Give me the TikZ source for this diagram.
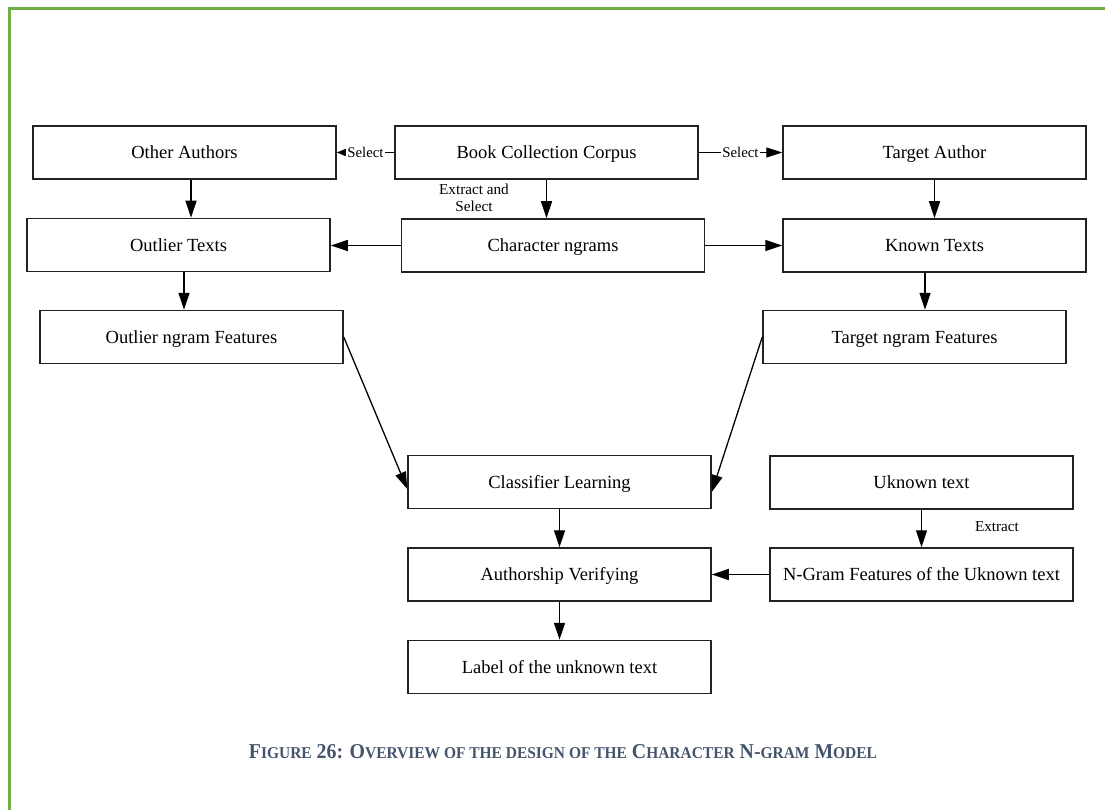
\documentclass[tikz,border=0pt]{standalone}
\usepackage{fontspec}
\usepackage{graphicx}
\setmainfont{Liberation Serif}
\usetikzlibrary{arrows.meta,calc}
\definecolor{framegreen}{HTML}{70AD47}
\definecolor{capblue}{HTML}{44546A}
\definecolor{boxline}{HTML}{222222}
\newcommand\capsm[1]{{\fontsize{7.8}{8}\selectfont #1}}
\tikzset{
  box/.style={draw=boxline, line width=1.5pt, minimum width=303pt, minimum height=53pt,
              inner sep=0pt, text height=12.3pt, text depth=0pt, font=\fontsize{18.5}{22}\selectfont},
  arr/.style={line width=1.3pt, draw=black, -{Triangle[length=17pt,width=11pt]}},
  arrs/.style={line width=1.3pt, draw=black, -{Triangle[length=9pt,width=7pt]}},
  arrm/.style={line width=1.3pt, draw=black, -{Triangle[length=16pt,width=10pt]}},
  lbl/.style={font=\fontsize{14.8}{17}\selectfont, inner sep=1pt, fill=white},
  lblf/.style={font=\fontsize{15.2}{17}\selectfont, inner sep=0pt, align=center}
}
\begin{document}
\begin{tikzpicture}[x=1pt,y=-1pt]
\useasboundingbox (0,0) rectangle (1105,810);
\fill[white] (0,0) rectangle (1105,810);
% frame (only top and left visible)
\draw[framegreen, line width=3pt] (9,812) -- (9,9) -- (1107,9);

% nodes
\node[box] (oa) at (184.5,152.5) {Other Authors};
\node[box] (bc) at (546.5,152.5) {Book Collection Corpus};
\node[box] (ta) at (934.5,152.5) {Target Author};
\node[box] (ot) at (178.5,245) {Outlier Texts};
\node[box] (cn) at (553,245.5) {Character ngrams};
\node[box] (kt) at (934.5,245.5) {Known Texts};
\node[box] (of) at (191.5,337) {Outlier ngram Features};
\node[box] (tf) at (914.5,337) {Target ngram Features};
\node[box] (cl) at (559.5,482) {Classifier Learning};
\node[box] (uk) at (921.5,482.5) {Uknown text};
\node[box] (av) at (559.5,574.5) {Authorship Verifying};
\node[box] (ng) at (921.5,574.5) {N-Gram Features of the Uknown text};
\node[box] (lb) at (559.5,667) {Label of the unknown text};

% connectors
\draw[arrs] (bc.west) -- node[lbl] {Select} (oa.east);
\draw[arrm] (bc.east) -- node[lbl] {Select} (ta.west);
\draw[arr] (bc.south) -- (bc.south |- cn.north);
\node[lblf] (es) at (474,198) {Extract and\\Select};
\draw[arr] ([xshift=6.5pt]oa.south) -- ([xshift=6.5pt]oa.south |- ot.north);
\draw[arr] (ta.south) -- (ta.south |- kt.north);
\draw[arr] (cn.west) -- (cn.west -| ot.east);
\draw[arr] (cn.east) -- (cn.east -| kt.west);
\draw[arr] ([xshift=5.5pt]ot.south) -- ([xshift=5.5pt]ot.south |- of.north);
\draw[arr] ([xshift=-9.5pt]kt.south) -- ([xshift=-9.5pt]kt.south |- tf.north);
\draw[arr] (of.east) -- ([yshift=-7pt]cl.west);
\draw[arr] (tf.west) -- ([yshift=-10pt]cl.east);
\draw[arr] (cl.south) -- (av.north);
\draw[arr] (av.south) -- (lb.north);
\draw[arr] (uk.south) -- (ng.north);
\node[lblf] (ex) at (997,527) {Extract};
\draw[arr] (ng.west) -- (ng.west -| av.east);

% caption
\node[text=capblue, inner sep=0pt] (cap) at (563,752)
  {\resizebox{628pt}{14pt}{\bfseries F\capsm{IGURE} 26: O\capsm{VERVIEW OF THE DESIGN OF THE} C\capsm{HARACTER} N-\capsm{GRAM} M\capsm{ODEL}}};
\end{tikzpicture}
\end{document}
